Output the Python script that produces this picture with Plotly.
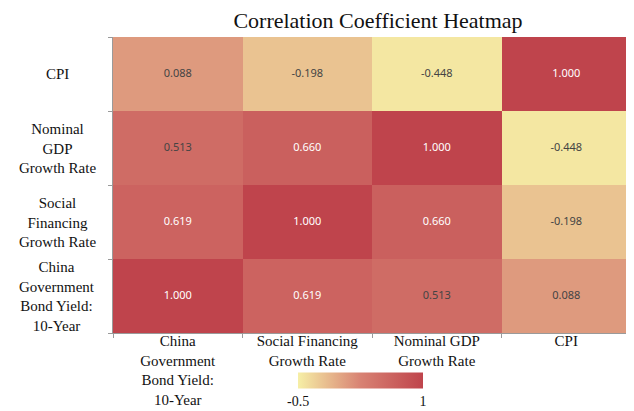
import plotly.graph_objects as go

x_labels = ["China<br>Government<br>Bond Yield:<br>10-Year",
            "Social Financing<br>Growth Rate",
            "Nominal GDP<br>Growth Rate",
            "CPI"]
y_labels = ["China<br>Government<br>Bond Yield:<br>10-Year",
            "Social<br>Financing<br>Growth Rate",
            "Nominal<br>GDP<br>Growth Rate",
            "CPI"]
# rows bottom -> top: China Bond, Social Financing, Nominal GDP, CPI
z_values = [
    [1.000, 0.619, 0.513, 0.088],
    [0.619, 1.000, 0.660, -0.198],
    [0.513, 0.660, 1.000, -0.448],
    [0.088, -0.198, -0.448, 1.000],
]
color_min, color_max = -0.5, 1.0
colorscale = [[0.0, "#f6efa6"], [0.5, "#d88273"], [1.0, "#bf444c"]]

serif = "Liberation Serif, Times New Roman, serif"
sans = "Noto Sans, Open Sans, sans-serif"

n = len(x_labels)
xs = list(range(n))
ys = list(range(len(y_labels)))

fig = go.Figure()
fig.add_trace(go.Heatmap(
    z=z_values, x=xs, y=ys,
    zmin=color_min, zmax=color_max,
    colorscale=colorscale,
    xgap=0, ygap=0,
    hoverinfo="skip",
    colorbar=dict(
        orientation="h",
        x=0.478, xanchor="center",
        y=-0.186, yanchor="middle",
        len=145, lenmode="pixels",
        thickness=16,
        outlinewidth=0,
        tickvals=[color_min, color_max],
        ticktext=["-0.5", "1"],
        ticks="",
        ticklabelposition="outside bottom",
        tickfont=dict(family=serif, size=14, color="#111"),
    ),
))

tx, ty, tt, tc = [], [], [], []
for r, row in enumerate(z_values):
    for c, v in enumerate(row):
        tx.append(c)
        ty.append(r)
        tt.append(f"{v:.3f}")
        tc.append("#ffffff" if v > 0.6 else "#444444")
fig.add_trace(go.Scatter(
    x=tx, y=ty, text=tt, mode="text",
    textfont=dict(family=sans, size=11, color=tc),
    hoverinfo="skip", showlegend=False,
))

for i, lab in enumerate(y_labels):
    fig.add_annotation(
        x=-0.108, xref="paper", y=i, yref="y",
        text=lab, showarrow=False, align="center",
        xanchor="center", yanchor="middle",
        font=dict(family=serif, size=15, color="#111"),
    )

fig.update_xaxes(
    range=[-0.5, n - 0.5],
    tickvals=xs, ticktext=x_labels,
    ticks="", ticklen=0,
    ticklabelstandoff=-6,
    tickfont=dict(family=serif, size=15, color="#111"),
    showline=True, linecolor="#9a9a9a", linewidth=1,
    showgrid=False, zeroline=False,
    minor=dict(tickvals=[i - 0.5 for i in range(n + 1)], ticks="outside",
               ticklen=4, tickcolor="#9a9a9a", showgrid=False),
    fixedrange=True,
)
fig.update_yaxes(
    range=[-0.5, len(y_labels) - 0.5],
    tickvals=ys, showticklabels=False,
    ticks="",
    showline=True, linecolor="#9a9a9a", linewidth=1,
    showgrid=False, zeroline=False,
    minor=dict(tickvals=[i - 0.5 for i in range(len(y_labels) + 1)], ticks="outside",
               ticklen=4, tickcolor="#9a9a9a", showgrid=False),
    fixedrange=True,
)

fig.update_layout(
    width=626, height=403,
    margin=dict(l=105, r=3, t=29, b=78, autoexpand=False),
    paper_bgcolor="white", plot_bgcolor="white",
    title=dict(text="Correlation Coefficient Heatmap",
               x=0.591, xanchor="center", y=0.97, yanchor="middle",
               font=dict(family=serif, size=22, color="#111")),
    showlegend=False,
)

fig.write_html("out.html")
